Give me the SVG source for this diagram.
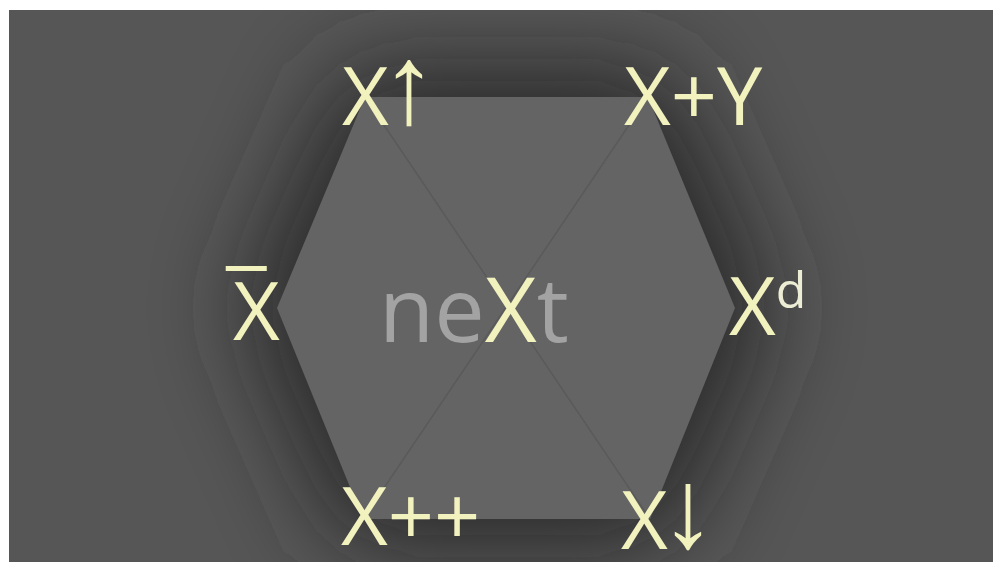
<svg xmlns="http://www.w3.org/2000/svg" width="993" height="562" viewBox="0 0 993 562">
<defs>
<filter id="shadow" x="-50%" y="-50%" width="200%" height="200%"><feGaussianBlur stdDeviation="50"/></filter>
<clipPath id="bg"><rect x="9" y="10" width="984" height="552"/></clipPath>
<style>
.lbl{font-family:"Open Sans","Noto Sans","DejaVu Sans",sans-serif;font-size:81px;fill:#f2f2bf}
.arr{font-family:"Liberation Sans","DejaVu Sans",sans-serif;font-size:112px}
.gray{fill:#a3a3a3}
</style>
</defs>
<rect x="0" y="0" width="993" height="562" fill="#ffffff"/>
<rect x="9" y="10" width="984" height="552" fill="#565656"/>
<g clip-path="url(#bg)">
<polygon points="350,70 665,70 770,308 665,546 350,546 245,308" fill="#2c2c2c" filter="url(#shadow)"/>
</g>
<g id="hexagon">
<polygon points="365,97 648,97 735,308 650,519 363,519 277,308" fill="#646464"/>
</g>
<g id="connectors">
<line x1="365" y1="97" x2="650" y2="519" stroke="#5a5a5a" stroke-width="1.5"/>
<line x1="648" y1="97" x2="363" y2="519" stroke="#5a5a5a" stroke-width="1.5"/>
</g>
<g id="center">
<text x="379" y="342" font-family="Open Sans, Noto Sans, sans-serif" font-size="90" class="gray">ne<tspan fill="#f2f2bf">X</tspan>t</text>
</g>
<g id="n-top-left"><text class="lbl" x="342" y="125">X<tspan class="arr" dx="-8" dy="-2">↑</tspan></text></g>
<g id="n-top-right"><text class="lbl" x="624" y="125">X+Y</text></g>
<g id="n-left"><text class="lbl" x="233" y="340">X</text><text class="lbl" x="226" y="332" font-size="86">¯</text></g>
<g id="n-right"><text class="lbl" x="729" y="335">X<tspan font-size="50" dy="-27" fill="#ededd5">d</tspan></text></g>
<g id="n-bottom-left"><text class="lbl" x="341" y="545">X++</text></g>
<g id="n-bottom-right"><text class="lbl" x="621" y="549">X<tspan class="arr" dx="-8" dy="-2">↓</tspan></text></g>
</svg>
